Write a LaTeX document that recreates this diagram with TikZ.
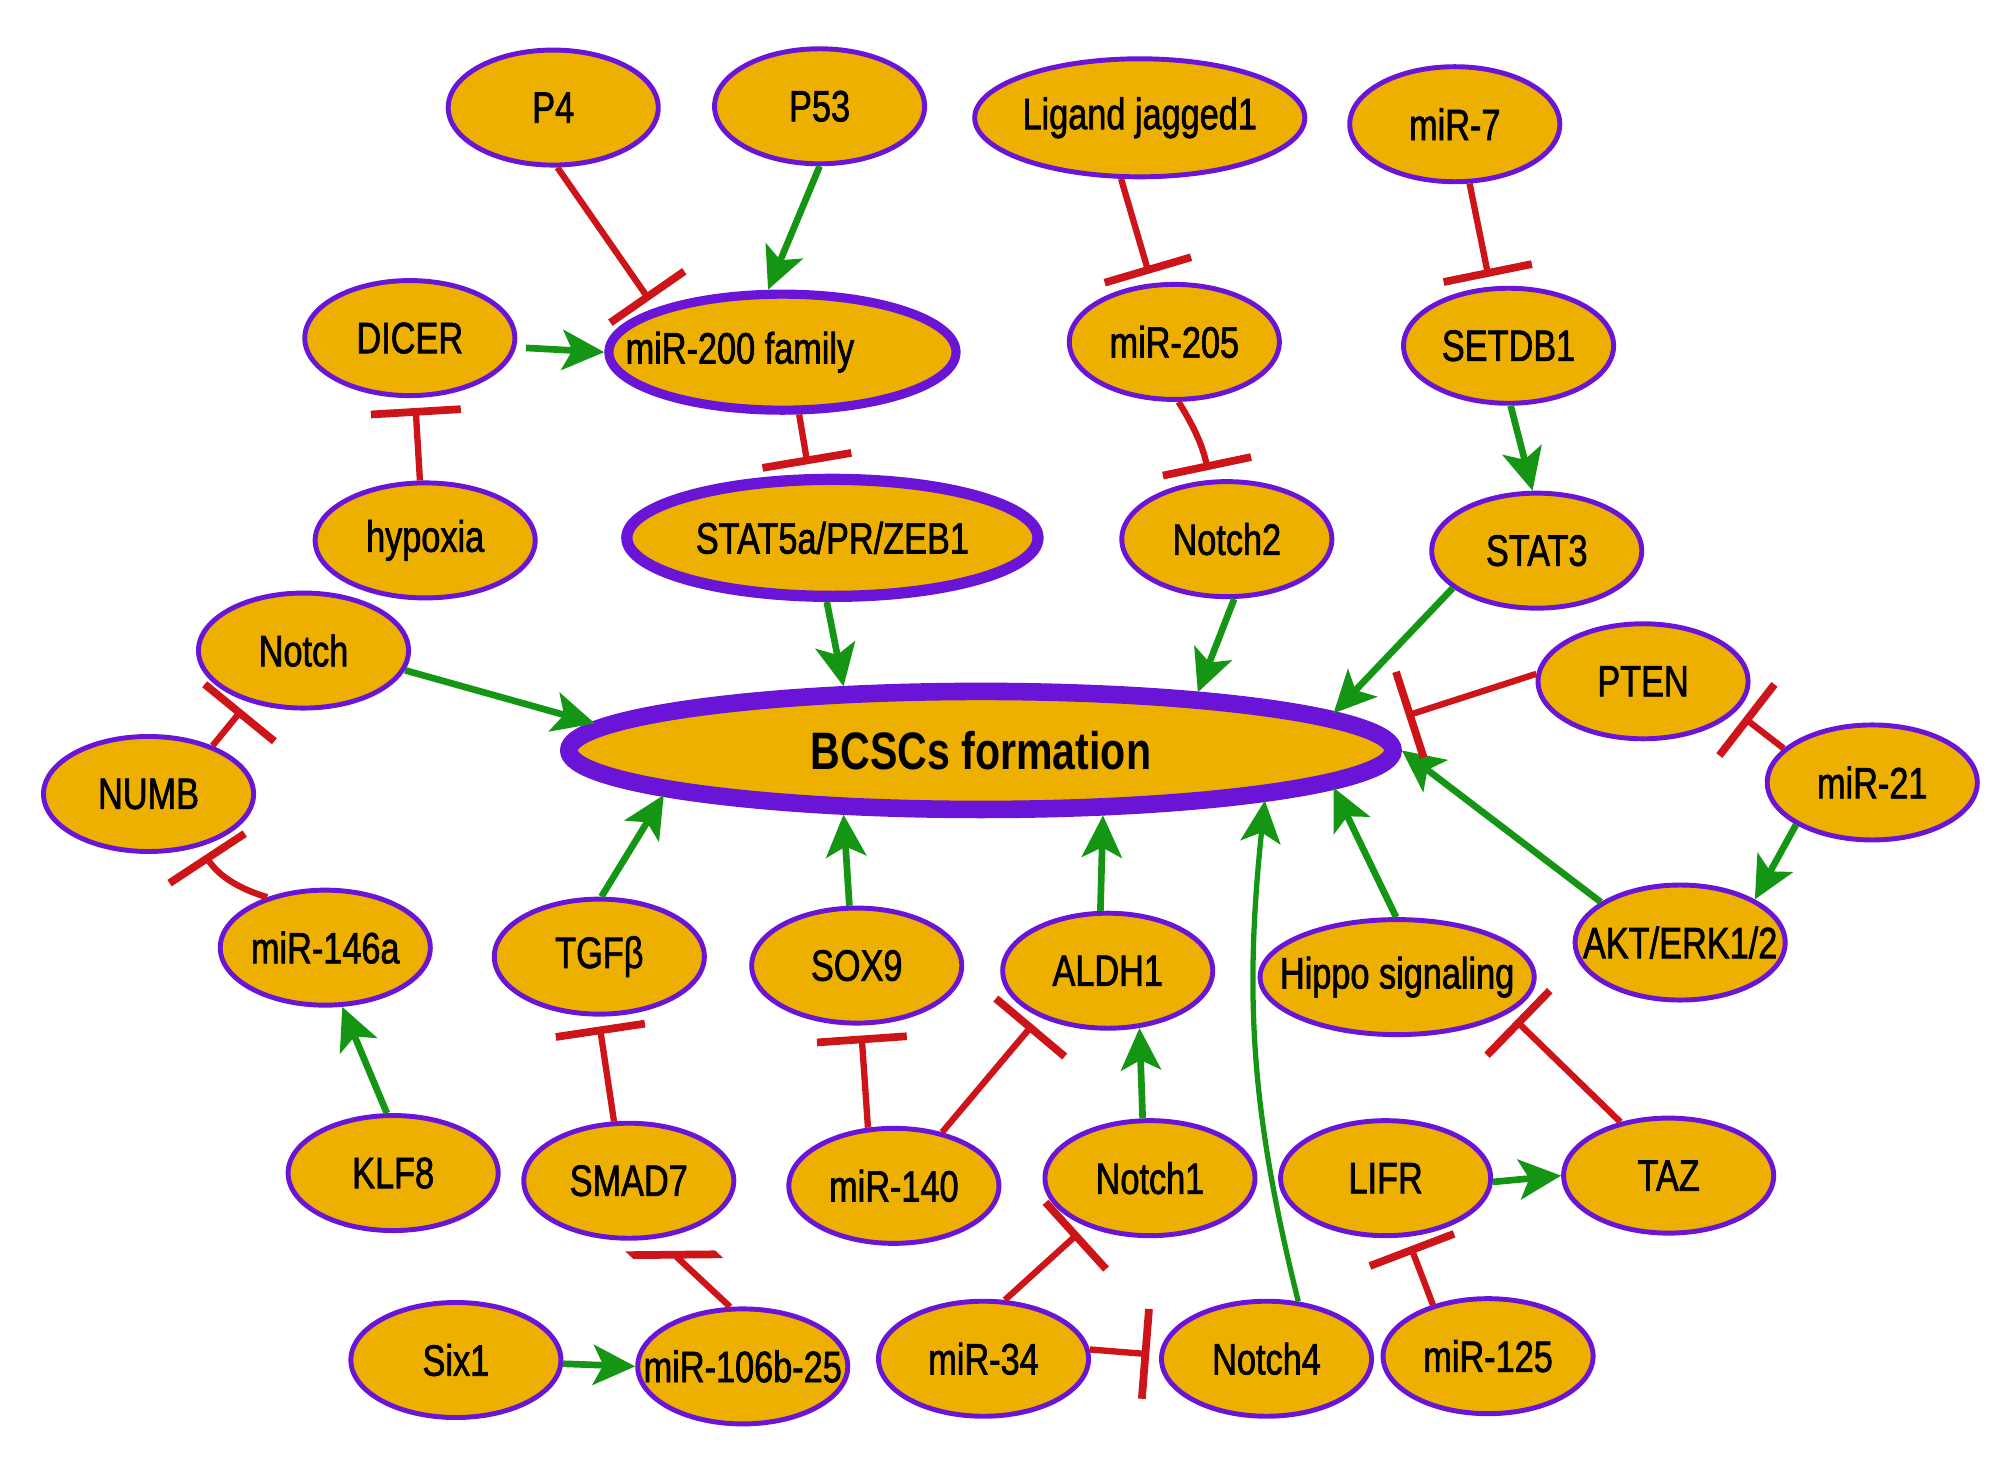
\documentclass[tikz,border=0pt]{standalone}
\usepackage{fontspec}
\setmainfont{Liberation Sans}[FakeStretch=0.78]
\newfontfamily\genefont{Liberation Sans}[FakeStretch=0.78,FakeBold=1.5]
\usetikzlibrary{arrows.meta,shapes.geometric}
\definecolor{genefill}{RGB}{238,176,0}
\definecolor{geneline}{RGB}{105,20,215}
\definecolor{actgreen}{RGB}{20,150,20}
\definecolor{inhred}{RGB}{205,20,25}

\begin{document}
\begin{tikzpicture}[x=0.0128cm,y=-0.0128cm,
        gene/.style={ellipse,draw=geneline,fill=genefill,line width=1.4pt,inner sep=0pt,
            minimum width=2.1cm,minimum height=1.15cm,font=\genefont\fontsize{12.5}{14}\selectfont,
            execute at begin node={\hbox to 0pt\bgroup\hss},execute at end node={\hss\egroup}},
        act/.style={draw=actgreen,line width=1.9pt,-{Stealth[length=0.42cm,width=0.4cm,inset=0.1cm]}},
        inh/.style={draw=inhred,line width=1.8pt,-{Bar[width=0.9cm,line width=2.2pt]},shorten >=0.1cm}]
            \useasboundingbox (0,0) rectangle (1568,1156);
            % top rows
            \node (p4) at (432,84) [gene] {P4};
            \node (p53) at (640,83) [gene] {P53};
            \node (jag) at (890,92) [gene,minimum width=3.3cm,minimum height=1.18cm] {Ligand jagged1};
            \node (mir7) at (1136,97) [gene] {miR-7};
            \node (dicer) at (320,264) [gene] {DICER};
            \node (mir200) at (611,275) [gene,line width=2.6pt,minimum width=3.47cm,minimum height=1.16cm] {\hspace*{-0.85cm}miR-200 family};
            \node (mir205) at (917,267) [gene] {miR-205};
            \node (setdb1) at (1178,270) [gene] {SETDB1};
            \node (hypoxia) at (332,422) [gene,minimum width=2.2cm] {hypoxia};
            \node (stat5) at (650,420) [gene,line width=3.2pt,minimum width=4.11cm,minimum height=1.17cm] {STAT5a/PR/ZEB1};
            \node (notch2) at (958,421) [gene] {Notch2};
            \node (stat3) at (1200,430) [gene] {STAT3};
            % middle
            \node (notch) at (237,508) [gene] {Notch};
            \node (pten) at (1283,532) [gene] {PTEN};
            \node (bcsc) at (766,586) [gene,line width=5pt,minimum width=8.24cm,minimum height=1.18cm,
                font=\bfseries\fontsize{15}{18}\selectfont] {BCSCs formation};
            \node (numb) at (116,620) [gene] {NUMB};
            \node (mir21) at (1462,611) [gene] {miR-21};
            \node (mir146) at (254,740) [gene] {miR-146a};
            \node (tgfb) at (468,747) [gene] {TGFβ};
            \node (sox9) at (669,754) [gene] {SOX9};
            \node (aldh1) at (865,758) [gene] {ALDH1};
            \node (hippo) at (1091,763) [gene,minimum width=2.74cm] {Hippo signaling};
            \node (akt) at (1312,736) [gene] {AKT/ERK1/2};
            % bottom rows
            \node (klf8) at (307,916) [gene] {KLF8};
            \node (smad7) at (491,922) [gene] {SMAD7};
            \node (mir140) at (698,926) [gene] {miR-140};
            \node (notch1) at (898,920) [gene] {Notch1};
            \node (lifr) at (1082,920) [gene] {LIFR};
            \node (taz) at (1303,918) [gene] {TAZ};
            \node (six1) at (356,1062) [gene] {Six1};
            \node (mir106) at (580,1067) [gene] {miR-106b-25};
            \node (mir34) at (768,1061) [gene] {miR-34};
            \node (notch4) at (989,1061) [gene] {Notch4};
            \node (mir125) at (1162,1059) [gene] {miR-125};
            \coordinate (ptenbar) at (1098,559);
            % activation
            \draw[act] (p53.-90) -- (mir200.103);
            \draw[act,shorten <=0.1cm] (dicer.-5) -- (mir200.180);
            \draw[act] (setdb1.-88) -- (stat3.94);
            \draw[act] (stat5.-95) -- (bcsc.155);
            \draw[act] (notch2.-83) -- (bcsc.15);
            \draw[act] (stat3.-156) -- (bcsc.6);
            \draw[act] (notch.-11) -- (bcsc.176);
            \draw[act] (mir21.-151) -- (akt.30);
            \draw[act] (akt.153) -- (bcsc.east);
            \draw[act] (tgfb.88) -- (bcsc.-172);
            \draw[act] (sox9.97) -- (bcsc.-155);
            \draw[act] (aldh1.97) -- (bcsc.-28.7);
            \draw[act] (hippo.91) -- (bcsc.-6.6);
            \draw[act,line width=1.5pt] (notch4.61) to[out=104,in=-96] (bcsc.-10.5);
            \draw[act] (notch1.97) -- (aldh1.-61);
            \draw[act] (klf8.96) -- (mir146.-74);
            \draw[act] (six1.-2) -- (mir106.180);
            \draw[act] (lifr.-2) -- (taz.180);
            % inhibition
            \draw[inh] (p4.-86) -- (mir200.161);
            \draw[inh] (jag.-107) -- (mir205.111);
            \draw[inh] (mir7.-76) -- (setdb1.107);
            \draw[inh] (hypoxia.95) -- (dicer.-85);
            \draw[inh] (mir200.-75) -- (stat5.110);
            \draw[inh] (mir205.-86) to[bend left=10] (notch2.106);
            \draw[inh,shorten >=0pt] (pten.176) -- (ptenbar);
            \draw[inh] (mir21.159) -- (pten.-18);
            \draw[inh] (numb.37) -- (notch.-137);
            \draw[inh] (mir146.139) to[bend left=20] (numb.-46);
            \draw[inh] (smad7.104) -- (tgfb.-91);
            \draw[inh] (mir140.114) -- (sox9.-86);
            \draw[inh] (mir140.48) -- (aldh1.-146);
            \draw[draw=inhred,line width=1.8pt,-{Bar[width=0.62cm,line width=3.2pt,slant=1.05]},shorten >=0.18cm]
                (mir106.102) -- (smad7.-64);
            \draw[inh] (mir34.70) -- (notch1.-143);
            \draw[inh] (mir34.5) -- (notch4.178);
            \draw[inh] (mir125.137) -- (lifr.-70);
            \draw[inh] (taz.132) -- (hippo.-18);
        \end{tikzpicture}
\end{document}
